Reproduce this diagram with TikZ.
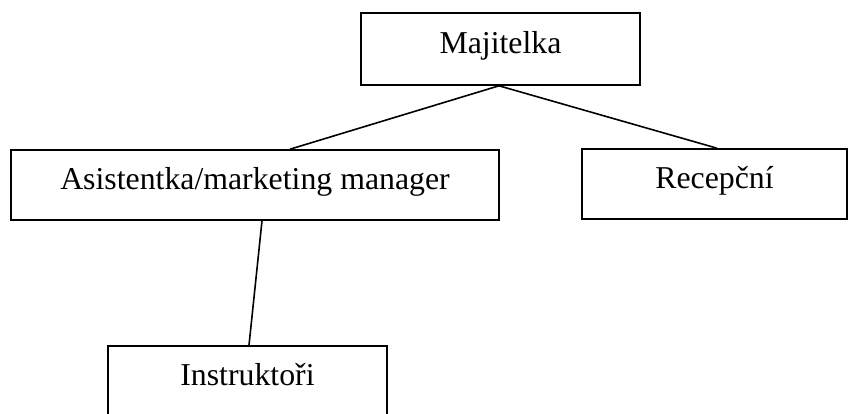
\documentclass[tikz,border=0pt]{standalone}
\usepackage{fontspec}
\setmainfont{Liberation Serif}
\begin{document}
\begin{tikzpicture}[x=1pt,y=-1pt,
  orgbox/.style={draw, line width=1.6pt, rectangle, inner sep=0pt,
    text height=21pt, text depth=12pt,
    font=\fontsize{31.8}{38}\selectfont},
  link/.style={line width=1.6pt}]
\useasboundingbox (0,0) rectangle (848,414);
\node[orgbox, minimum width=279pt, minimum height=72pt] (maj) at (500.5,49) {Majitelka};
\node[orgbox, minimum width=488pt, minimum height=70pt] (asis) at (255,185) {Asistentka/marketing manager};
\node[orgbox, minimum width=265pt, minimum height=70pt] (rec) at (714.5,184) {Recepční};
\node[orgbox, minimum width=279pt, minimum height=70pt] (ins) at (247.5,381) {Instruktoři};
\draw[link] ([xshift=-1.5pt]maj.south) -- ([xshift=35pt]asis.north);
\draw[link] ([xshift=-1.5pt]maj.south) -- ([xshift=2.5pt]rec.north);
\draw[link] ([xshift=7pt]asis.south) -- ([xshift=1.5pt]ins.north);
\end{tikzpicture}
\end{document}
